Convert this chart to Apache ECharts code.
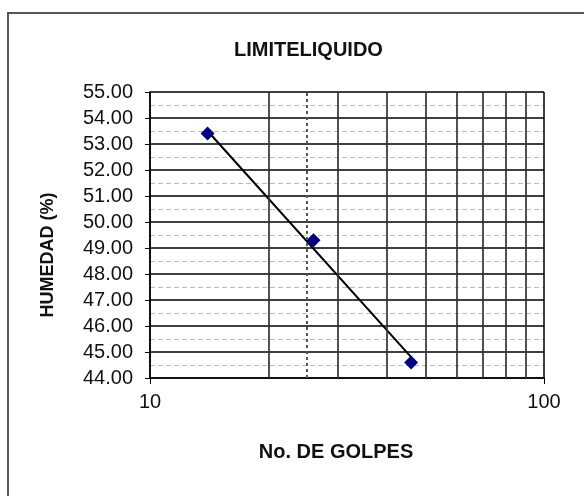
<!DOCTYPE html>
<html>
<head>
<meta charset="utf-8">
<script src="https://cdn.jsdelivr.net/npm/echarts@6/dist/echarts.min.js"></script>
<style>
  html, body { margin: 0; padding: 0; background: #fff; }
  #chart { width: 584px; height: 496px; }
</style>
</head>
<body>
<div id="chart"></div>
<script>
// puntos del ensayo (golpes, humedad %)
var golpes = [14, 26, 46];
var humedad = [53.4, 49.3, 44.6];
// recta de tendencia
var trendGolpes = [14, 46];
var trendHumedad = [53.5, 44.8];
// lineas verticales de la escala logaritmica
var gridGolpes = [20, 30, 40, 50, 60, 70, 80, 90];
var refGolpes = 25;

var myChart = echarts.init(document.getElementById('chart'));
var font = 'Liberation Sans, Arial, sans-serif';

var puntos = golpes.map(function (g, i) { return [g, humedad[i]]; });
var tendencia = trendGolpes.map(function (g, i) { return [g, trendHumedad[i]]; });

var lineas = gridGolpes.map(function (g) { return {xAxis: g}; });
lineas.push({
   xAxis: refGolpes,
   lineStyle: {type: [3, 3], color: '#555', width: 2}
});

myChart.setOption({
   animation: false,
   title: {
      text: 'LIMITELIQUIDO',
      left: 229,
      top: 35,
      textStyle: {fontFamily: font, fontSize: 20, fontWeight: 'bold', color: '#111'}
   },
   graphic: [{
      type: 'rect',
      shape: {x: 8, y: 13, width: 640, height: 540},
      style: {fill: 'none', stroke: '#555', lineWidth: 2}
   }],
   grid: {left: 150, right: 40, top: 92, bottom: 118},
   xAxis: {
      type: 'log',
      logBase: 10,
      min: 10,
      max: 100,
      name: 'No. DE GOLPES',
      nameLocation: 'middle',
      nameGap: 64,
      nameTextStyle: {fontFamily: font, fontSize: 20, fontWeight: 'bold', color: '#111', padding: [0, 22, 0, 0]},
      axisLine: {lineStyle: {color: '#000', width: 1.5}},
      axisTick: {show: true, length: 6, lineStyle: {color: '#000'}},
      axisLabel: {fontFamily: font, fontSize: 20, color: '#111', margin: 14},
      splitLine: {show: true, lineStyle: {color: '#000', width: 1.5}}
   },
   yAxis: {
      type: 'value',
      min: 44,
      max: 55,
      interval: 1,
      name: 'HUMEDAD (%)',
      nameLocation: 'middle',
      nameGap: 93,
      nameTextStyle: {fontFamily: font, fontSize: 18, fontWeight: 'bold', color: '#111', padding: [0, 40, 0, 0]},
      axisLine: {show: true, lineStyle: {color: '#000', width: 1.5}},
      axisTick: {show: true, length: 5, lineStyle: {color: '#000'}},
      axisLabel: {
         fontFamily: font, fontSize: 20, color: '#111', margin: 17,
         formatter: function (v) { return v.toFixed(2); }
      },
      splitLine: {show: true, lineStyle: {color: '#000', width: 1.5}},
      minorTick: {show: false, splitNumber: 2},
      minorSplitLine: {show: true, lineStyle: {color: '#bbb', type: [5, 3], width: 1.2}}
   },
   series: [
      {
         type: 'line',
         data: tendencia,
         symbol: 'none',
         silent: true,
         lineStyle: {color: '#000', width: 2},
         markLine: {
            silent: true,
            symbol: 'none',
            label: {show: false},
            lineStyle: {color: '#333', type: 'solid', width: 1.7},
            data: lineas
         },
         z: 3
      },
      {
         type: 'scatter',
         data: puntos,
         symbol: 'diamond',
         symbolSize: 14,
         itemStyle: {color: '#000080', opacity: 1},
         z: 4
      }
   ]
});
</script>
</body>
</html>
